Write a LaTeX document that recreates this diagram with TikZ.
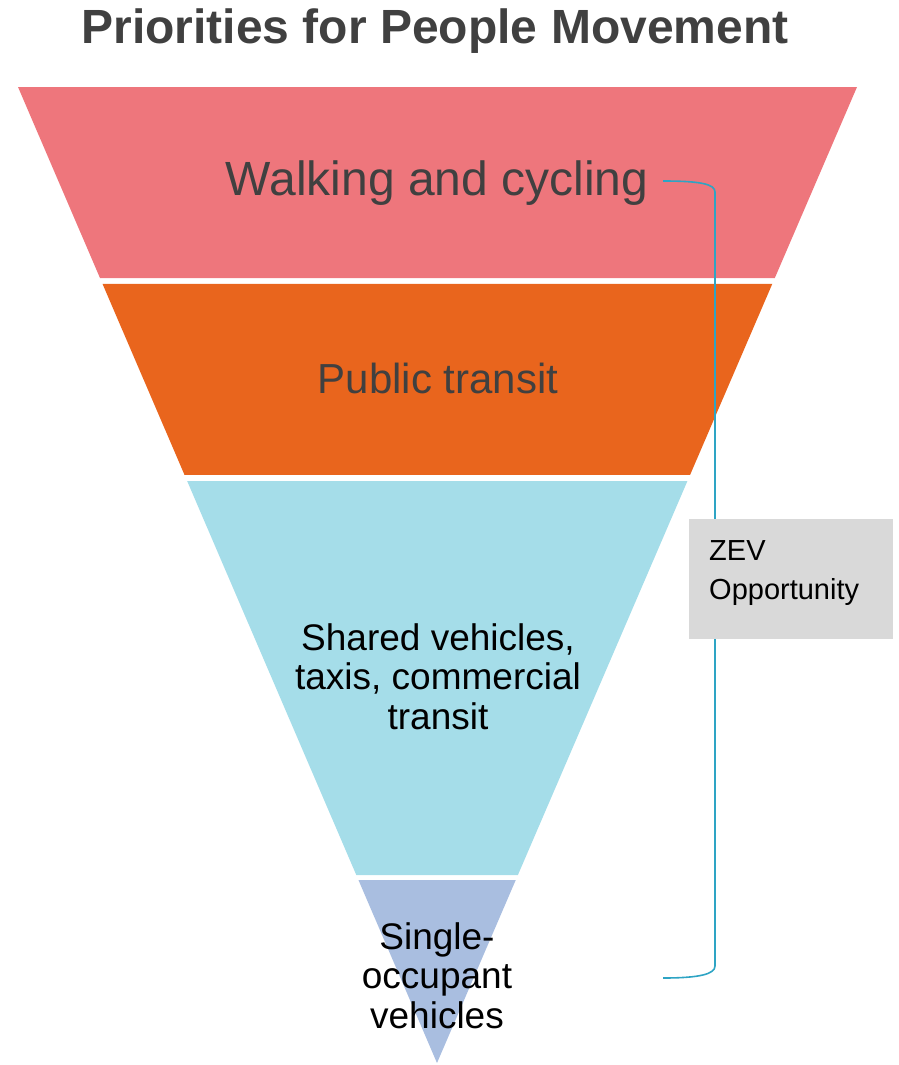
\documentclass[tikz,border=0pt]{standalone}
\usepackage{fontspec}
\setmainfont{Liberation Sans}
\usetikzlibrary{calc}

\definecolor{walkpink}{HTML}{EE767C}
\definecolor{transitorange}{HTML}{E9651D}
\definecolor{sharedblue}{HTML}{A5DDE9}
\definecolor{singleblue}{HTML}{A9BEE0}
\definecolor{bracketcyan}{HTML}{2EA4C4}
\definecolor{zevgray}{HTML}{D9D9D9}
\definecolor{textgray}{HTML}{404040}

\begin{document}
\begin{tikzpicture}[x=1pt,y=-1pt,
  tier/.style={inner sep=0pt,align=center},
  big/.style={tier,text=textgray,anchor=base},
  small/.style={tier,font=\fontsize{37}{39.5}\selectfont,anchor=north},
  brace/.style={draw=bracketcyan,line width=1.6pt},
  zevbox/.style={fill=zevgray,inner sep=0pt,minimum width=204pt,minimum height=120pt},
  zevtext/.style={inner sep=0pt,align=left,font=\fontsize{29}{39}\selectfont}]

\useasboundingbox (0,0) rectangle (899,1065);

\coordinate (TL) at (18,87);
\coordinate (TR) at (857,87);
\coordinate (AP) at (437,1063);

% funnel tiers
\fill[walkpink]      (TL) -- (TR) -- ($(TR)!0.1957!(AP)$) -- ($(TL)!0.1957!(AP)$) -- cycle;
\fill[transitorange] ($(TL)!0.2018!(AP)$) -- ($(TR)!0.2018!(AP)$) -- ($(TR)!0.3975!(AP)$) -- ($(TL)!0.3975!(AP)$) -- cycle;
\fill[sharedblue]    ($(TL)!0.4037!(AP)$) -- ($(TR)!0.4037!(AP)$) -- ($(TR)!0.8074!(AP)$) -- ($(TL)!0.8074!(AP)$) -- cycle;
\fill[singleblue]    ($(TL)!0.8125!(AP)$) -- ($(TR)!0.8125!(AP)$) -- (AP) -- cycle;

\node[big,font=\fontsize{48}{52}\selectfont\bfseries] (T) at (435,44) {Priorities for People Movement};
\node[big,font=\fontsize{48}{52}\selectfont]          (W) at (437,195) {Walking and cycling};
\node[big,font=\fontsize{42}{48}\selectfont]          (P) at (438,393) {Public transit};
\node[small] (S) at (438,623) {Shared vehicles,\\taxis, commercial\\transit};
\node[small] (V) at (437,922) {Single-\\occupant\\vehicles};

% bracket
\coordinate (B1) at (663,181);
\coordinate (B2) at (663,978);
\draw[brace] (B1) .. controls (700,181) and (715,184) .. (715,192) -- (715,966)
             .. controls (715,974) and (700,978) .. (B2);

\node[zevbox,anchor=north west] (Z) at (689,519) {};
\node[zevtext,anchor=north west] (ZT) at ([xshift=20pt,yshift=-21pt]Z.north west) {ZEV\\Opportunity};

\end{tikzpicture}
\end{document}
